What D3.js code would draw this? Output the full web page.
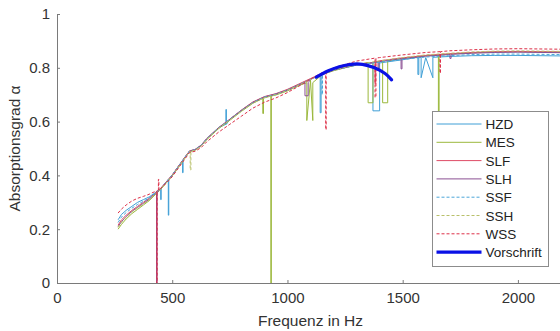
<!DOCTYPE html>
<html>
<head>
<meta charset="utf-8">
<script src="https://cdn.jsdelivr.net/npm/d3@7"></script>
<style>
  body { margin: 0; background: #fff; }
  svg { display: block; font-family: "Liberation Sans", Arial, sans-serif; }
</style>
</head>
<body>
<div id="chart"></div>
<script>
// frequency grid shared by all measured series (Hz)
const freq = [265, 280, 300, 325, 350, 375, 400, 425, 450, 475, 500, 525, 550, 575, 600, 625, 650, 700, 750, 800,
  850, 900, 950, 1000, 1050, 1100, 1150, 1200, 1300, 1400, 1500, 1600, 1700, 1800, 1900, 2000, 2100, 2200];

const hzd = [0.235,0.255,0.27,0.285,0.30,0.31,0.32,0.335,0.352,0.376,0.40,0.432,0.462,0.49,0.497,0.512,0.537,0.577,0.609,0.642,0.672,0.692,0.703,0.718,0.738,0.758,0.777,0.792,0.81,0.82,0.83,0.838,0.842,0.845,0.846,0.846,0.845,0.844];
const mes = [0.2,0.218,0.238,0.258,0.274,0.29,0.306,0.327,0.348,0.373,0.398,0.428,0.458,0.488,0.494,0.509,0.533,0.573,0.605,0.638,0.668,0.688,0.699,0.714,0.734,0.754,0.774,0.789,0.811,0.824,0.835,0.845,0.851,0.856,0.859,0.86,0.859,0.858];
const slf = [0.215,0.235,0.252,0.27,0.285,0.3,0.315,0.333,0.352,0.377,0.402,0.432,0.462,0.491,0.497,0.512,0.537,0.577,0.609,0.643,0.673,0.693,0.704,0.72,0.74,0.76,0.779,0.794,0.813,0.826,0.837,0.846,0.852,0.857,0.86,0.861,0.86,0.859];
const slh = [0.21,0.228,0.247,0.266,0.281,0.296,0.311,0.331,0.351,0.376,0.401,0.431,0.461,0.49,0.496,0.511,0.536,0.576,0.608,0.641,0.671,0.691,0.702,0.717,0.737,0.757,0.776,0.791,0.811,0.823,0.834,0.843,0.849,0.854,0.857,0.858,0.857,0.856];
const ssf = [0.225,0.245,0.262,0.278,0.292,0.304,0.316,0.333,0.351,0.376,0.401,0.431,0.461,0.49,0.496,0.511,0.536,0.576,0.608,0.641,0.671,0.691,0.702,0.717,0.737,0.757,0.776,0.791,0.81,0.821,0.831,0.84,0.845,0.849,0.851,0.851,0.85,0.849];
const ssh = [0.207,0.226,0.245,0.264,0.279,0.294,0.309,0.329,0.349,0.374,0.399,0.429,0.459,0.489,0.494,0.509,0.534,0.574,0.606,0.639,0.669,0.689,0.7,0.716,0.736,0.756,0.776,0.791,0.812,0.826,0.838,0.848,0.854,0.859,0.862,0.863,0.862,0.861];
const wss = [0.26,0.275,0.29,0.305,0.315,0.322,0.33,0.34,0.352,0.372,0.395,0.425,0.455,0.485,0.49,0.503,0.525,0.56,0.59,0.62,0.65,0.672,0.688,0.708,0.732,0.758,0.782,0.8,0.825,0.838,0.848,0.857,0.863,0.867,0.87,0.871,0.87,0.869];

// resonance dips: [start Hz, end Hz, value before, value in dip]
const hzdDips = [[450,452,0.352,0.31],[483,485,0.385,0.252],[545,547,0.455,0.41],[733,735,0.59,0.645],[1142,1146,0.774,0.633],[1371,1400,0.818,0.64],[1566,1570,0.839,0.775],[1580,1631,0.839,0.763]];
const mesDips = [[893,896,0.686,0.63],[928,930,0.695,0],[1084,1110,0.745,0.604],[1350,1371,0.82,0.67],[1413,1435,0.826,0.67],[1655,1658,0.848,0.55]];
const slfDips = [[1380,1383,0.82,0.74]];
const slhDips = [[432,434,0.335,0],[1076,1090,0.745,0.696],[1393,1397,0.822,0.8],[1493,1497,0.834,0.796],[1705,1710,0.85,0.835]];
const ssfDips = [[1150,1152,0.776,0.7]];
const sshDips = [[578,581,0.49,0.42]];
const wssDips = [[433,435,0.342,0],[440,442,0.345,0.385],[1166,1168,0.785,0.57],[1380,1384,0.836,0.69],[1662,1664,0.86,0.78]];

// Vorschrift (target curve)
const vorFreq = [1125, 1175, 1225, 1275, 1325, 1375, 1425, 1452];
const vorVal = [0.765, 0.788, 0.804, 0.813, 0.813, 0.801, 0.778, 0.755];

const xTicks = [0, 500, 1000, 1500, 2000];
const yTicks = [0, 0.2, 0.4, 0.6, 0.8, 1];

const series = [
  {name: "HZD", vals: hzd, dips: hzdDips, color: "#3f9fd6", dash: null},
  {name: "MES", vals: mes, dips: mesDips, color: "#9bb83c", dash: null},
  {name: "SLF", vals: slf, dips: slfDips, color: "#de4c66", dash: null},
  {name: "SLH", vals: slh, dips: slhDips, color: "#8a4f93", dash: null},
  {name: "SSF", vals: ssf, dips: ssfDips, color: "#4aa6d8", dash: "3,2"},
  {name: "SSH", vals: ssh, dips: sshDips, color: "#b9c06a", dash: "3,2"},
  {name: "WSS", vals: wss, dips: wssDips, color: "#dd3048", dash: "3,2"}
];

const width = 560, height = 331;
const margin = {left: 57, top: 14, bottom: 48};

const svg = d3.select("#chart").append("svg")
  .attr("width", width).attr("height", height);

const x = d3.scaleLinear().domain([0, 2200]).range([margin.left, 564]);
const y = d3.scaleLinear().domain([0, 1]).range([height - margin.bottom, margin.top]);

const line = d3.line().x(d => x(d[0])).y(d => y(d[1]));

function buildPoints(s) {
  let pts = freq.map((f, i) => [f, s.vals[i]]);
  s.dips.forEach(d => {
    pts.push([d[0], d[2]], [d[0] + 0.01, d[3]], [d[1] - 0.01, d[3]], [d[1], d[2]]);
  });
  return pts.sort((a, b) => a[0] - b[0]);
}

const plot = svg.append("g");
series.forEach(s => {
  plot.append("path")
    .attr("d", line(buildPoints(s)))
    .attr("fill", "none")
    .attr("stroke", s.color)
    .attr("stroke-width", 1)
    .attr("stroke-dasharray", s.dash);
});

const smooth = d3.line().x(d => x(d[0])).y(d => y(d[1])).curve(d3.curveCatmullRom);
plot.append("path")
  .attr("d", smooth(vorFreq.map((f, i) => [f, vorVal[i]])))
  .attr("fill", "none")
  .attr("stroke", "#0a10e6")
  .attr("stroke-width", 3.2)
  .attr("stroke-linecap", "round");

// axes, MATLAB style ticks inward
const axisColor = "#7a7a7a";
const xAxis = svg.append("g")
  .attr("transform", `translate(0,${y(0)})`)
  .call(d3.axisBottom(x).tickValues(xTicks).tickFormat(d3.format("d")).tickSizeInner(-3).tickSizeOuter(0).tickPadding(9));
const yAxis = svg.append("g")
  .attr("transform", `translate(${x(0)},0)`)
  .call(d3.axisLeft(y).tickValues(yTicks).tickFormat(d3.format("")).tickSizeInner(-3).tickSizeOuter(0).tickPadding(7));

[xAxis, yAxis].forEach(a => {
  a.select(".domain").attr("stroke", axisColor);
  a.selectAll(".tick line").attr("stroke", axisColor);
  a.selectAll("text").attr("fill", "#333").style("font-size", "15px")
    .style("font-family", "'Liberation Sans', Arial, sans-serif");
});

svg.append("text")
  .attr("x", x(1100)).attr("y", 326)
  .attr("text-anchor", "middle")
  .attr("fill", "#333").style("font-size", "15.5px")
  .text("Frequenz in Hz");

svg.append("text")
  .attr("transform", `translate(20,${y(0.5)}) rotate(-90)`)
  .attr("text-anchor", "middle")
  .attr("fill", "#333").style("font-size", "15.5px")
  .text("Absorptionsgrad α");

// legend
const legend = svg.append("g").attr("transform", "translate(432.5,111.5)");
legend.append("rect")
  .attr("width", 116).attr("height", 155)
  .attr("fill", "#fff").attr("stroke", "#8c8c8c");

const legendItems = series.map(s => ({name: s.name, color: s.color, dash: s.dash, w: 1}))
  .concat([{name: "Vorschrift", color: "#0a10e6", dash: null, w: 3.2}]);

legendItems.forEach((d, i) => {
  const ly = 12.5 + i * 18.3;
  legend.append("line")
    .attr("x1", 4).attr("x2", 49).attr("y1", ly).attr("y2", ly)
    .attr("stroke", d.color).attr("stroke-width", d.w)
    .attr("stroke-dasharray", d.dash);
  legend.append("text")
    .attr("x", 53).attr("y", ly + 5)
    .attr("fill", "#222").style("font-size", "13.5px")
    .text(d.name);
});
</script>
</body>
</html>
